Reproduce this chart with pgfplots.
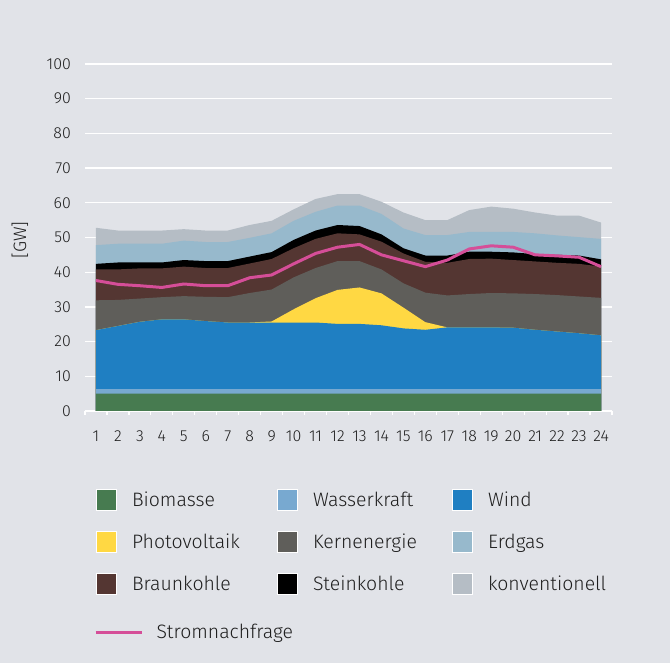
\documentclass[border=0pt]{standalone}
\usepackage{fontspec}
\setmainfont{Fira Sans}[UprightFont={* Light}]
\usepackage{pgfplots}
\usepackage{pgfplotstable}
\pgfplotsset{compat=1.18}
\definecolor{bg}{HTML}{E1E3E8}
\definecolor{txt}{HTML}{1E1E1E}
\definecolor{cBio}{HTML}{477B50}
\definecolor{cWas}{HTML}{78A9D0}
\definecolor{cWind}{HTML}{1F7FC2}
\definecolor{cPV}{HTML}{FFD843}
\definecolor{cKern}{HTML}{5F5E5A}
\definecolor{cGas}{HTML}{97B9CC}
\definecolor{cBraun}{HTML}{543632}
\definecolor{cStein}{HTML}{000000}
\definecolor{cKonv}{HTML}{B5BDC5}
\definecolor{cStrom}{HTML}{D54E98}
% cumulative tops (GW)
\pgfplotstableread{
h Bio Wa W P K B S E C D
1 5.0 6.3 23.3 23.3 31.9 40.8 42.4 47.8 52.8 37.6
2 5.0 6.3 24.5 24.5 32.0 40.8 42.8 48.2 52.0 36.5
3 5.0 6.3 25.7 25.7 32.4 41.1 42.8 48.2 52.0 36.1
4 5.0 6.3 26.4 26.4 32.8 41.1 42.8 48.2 52.0 35.6
5 5.0 6.3 26.4 26.4 33.1 41.6 43.5 49.1 52.4 36.6
6 5.0 6.3 25.9 25.9 32.9 41.2 43.2 48.7 52.0 36.1
7 5.0 6.3 25.5 25.5 32.8 41.2 43.2 48.7 52.0 36.1
8 5.0 6.3 25.5 25.5 34.0 42.5 44.5 49.9 53.6 38.4
9 5.0 6.3 25.5 25.8 35.0 43.8 45.8 51.2 54.8 39.2
10 5.0 6.3 25.5 29.3 38.5 46.9 49.3 54.8 58.1 42.4
11 5.0 6.3 25.5 32.5 41.2 49.6 52.0 57.4 61.1 45.4
12 5.0 6.3 25.1 34.9 43.2 51.2 53.6 59.2 62.5 47.2
13 5.0 6.3 25.1 35.6 43.2 50.9 53.3 59.2 62.5 48.0
14 5.0 6.3 24.7 33.9 40.8 48.8 50.9 56.8 60.3 45.0
15 5.0 6.3 23.8 29.8 36.8 45.4 46.9 52.6 57.2 43.3
16 5.0 6.3 23.4 25.6 34.1 43.0 44.8 50.7 55.0 41.6
17 5.0 6.3 24.1 24.1 33.3 42.7 44.8 50.7 55.0 43.5
18 5.0 6.3 24.1 24.1 33.7 43.8 45.9 51.6 57.9 46.7
19 5.0 6.3 24.1 24.1 34.0 43.9 45.9 51.6 58.9 47.6
20 5.0 6.3 24.0 24.0 33.9 43.5 45.7 51.6 58.3 47.2
21 5.0 6.3 23.4 23.4 33.7 43.1 45.2 51.2 57.2 45.0
22 5.0 6.3 22.9 22.9 33.4 42.7 45.0 50.6 56.3 44.7
23 5.0 6.3 22.4 22.4 33.0 42.4 44.8 50.1 56.3 44.3
24 5.0 6.3 21.8 21.8 32.6 41.6 43.7 49.6 54.3 41.6
}\datatab
\begin{document}
\begin{tikzpicture}[x=1bp,y=1bp]
\fill[bg] (0,0) rectangle (670,663);
\useasboundingbox (0,0) rectangle (670,663);
\begin{axis}[
  at={(85bp,252bp)}, anchor=south west,
  scale only axis, width=527bp, height=347bp,
  xmin=0.5, xmax=24.5, ymin=0, ymax=100,
  axis x line*=bottom, axis y line*=left,
  axis line style={draw=none},
  xtick={1,...,24}, minor xtick={0.5,1.5,...,24.5},
  ytick={0,10,...,100},
  major tick length=0pt, minor tick length=4bp, tick align=outside,
  every minor tick/.append style={draw=white, line width=1.2bp},
  ymajorgrids, major grid style={draw=white, line width=1.3bp},
  /pgf/number format/assume math mode=true,
  tick label style={font=\fontsize{16}{19}\selectfont, text=txt, inner sep=0pt},
  xticklabel style={anchor=north},
  yticklabel style={anchor=east},
  xticklabel shift=20bp, yticklabel shift=14bp,
  ylabel={[GW]},
  ylabel style={at={(axis description cs:-0.1233,0.4928)}, anchor=center, font=\fontsize{18}{21}\selectfont, text=txt},
  legend columns=3,
  legend image code/.code={\draw[#1, draw=white, line width=1bp] (0.5bp,-4.2bp) rectangle (20.5bp,16.8bp);},
  legend style={at={(axis description cs:0.0209,-0.2248)}, anchor=north west,
    draw=none, fill=none, inner sep=0pt, outer sep=0pt,
    font=\fontsize{19.5}{23}\selectfont, text=txt,
    nodes={inner sep=0pt, outer sep=0pt},
    cells={anchor=base west, inner sep=0pt, outer sep=0pt},
    column sep=0pt, row sep=20bp,
    /tikz/every odd column/.append style={column sep=15bp}},
]
\addplot[fill=cKonv, draw=none, forget plot] table[x=h, y=C] {\datatab} \closedcycle;
\addplot[fill=cGas, draw=none, forget plot] table[x=h, y=E] {\datatab} \closedcycle;
\addplot[fill=cStein, draw=none, forget plot] table[x=h, y=S] {\datatab} \closedcycle;
\addplot[fill=cBraun, draw=none, forget plot] table[x=h, y=B] {\datatab} \closedcycle;
\addplot[fill=cKern, draw=none, forget plot] table[x=h, y=K] {\datatab} \closedcycle;
\addplot[fill=cPV, draw=none, forget plot] table[x=h, y=P] {\datatab} \closedcycle;
\addplot[fill=cWind, draw=none, forget plot] table[x=h, y=W] {\datatab} \closedcycle;
\addplot[fill=cWas, draw=none, forget plot] table[x=h, y=Wa] {\datatab} \closedcycle;
\addplot[fill=cBio, draw=none, forget plot] table[x=h, y=Bio] {\datatab} \closedcycle;
\addlegendimage{fill=cBio}
\addlegendentry{\makebox[145bp][l]{Biomasse}}
\addlegendimage{fill=cWas}
\addlegendentry{\makebox[139bp][l]{Wasserkraft}}
\addlegendimage{fill=cWind}
\addlegendentry{Wind}
\addlegendimage{fill=cPV}
\addlegendentry{\makebox[145bp][l]{Photovoltaik}}
\addlegendimage{fill=cKern}
\addlegendentry{\makebox[139bp][l]{Kernenergie}}
\addlegendimage{fill=cGas}
\addlegendentry{Erdgas}
\addlegendimage{fill=cBraun}
\addlegendentry{\makebox[145bp][l]{Braunkohle}}
\addlegendimage{fill=cStein}
\addlegendentry{\makebox[139bp][l]{Steinkohle}}
\addlegendimage{fill=cKonv}
\addlegendentry{konventionell}
\end{axis}
\begin{axis}[
  at={(85bp,252bp)}, anchor=south west,
  scale only axis, width=527bp, height=347bp,
  xmin=0.5, xmax=24.5, ymin=0, ymax=100,
  hide axis,
  legend image code/.code={\draw[#1] (0bp,6.3bp) -- (46bp,6.3bp);},
  legend style={at={(axis description cs:0.0171,-0.6138)}, anchor=north west,
    draw=none, fill=none, inner sep=0pt, outer sep=0pt,
    font=\fontsize{19.5}{23}\selectfont, text=txt,
    nodes={inner sep=0pt, outer sep=0pt},
    cells={anchor=base west, inner sep=0pt, outer sep=0pt},
    column sep=0pt,
    /tikz/every odd column/.append style={column sep=13.5bp}},
]
\addplot[cStrom, line width=3bp, line join=round] table[x=h, y=D] {\datatab};
\addlegendentry{Stromnachfrage}
\end{axis}
\end{tikzpicture}
\end{document}
